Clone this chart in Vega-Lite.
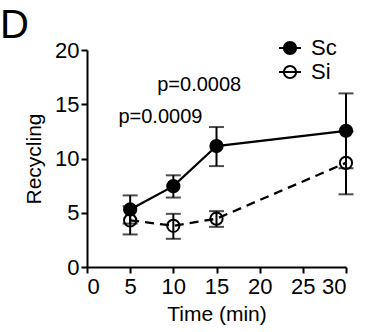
{
  "$schema": "https://vega.github.io/schema/vega-lite/v6.json",
  "width": 259,
  "height": 217,
  "autosize": "none",
  "padding": {"left": 87, "top": 50, "right": 27, "bottom": 65},
  "background": "white",
  "config": {
    "font": "Liberation Sans",
    "view": {"stroke": null},
    "axis": {
      "domainColor": "black", "domainWidth": 2, "tickColor": "black", "tickWidth": 2, "tickSize": 6,
      "labelColor": "black", "labelFontSize": 22, "titleColor": "black", "titleFontSize": 21,
      "titleFontWeight": "normal", "grid": false
    }
  },
  "title": {"text": "D", "anchor": "start", "frame": "group", "fontSize": 40, "fontWeight": "normal", "color": "black", "dx": -87, "offset": -9, "font": "Liberation Sans"},
  "datasets": {
    "series": [
      {"series": "Sc", "time": 5, "mean": 5.3, "lo": 4.0, "hi": 6.6},
      {"series": "Sc", "time": 10, "mean": 7.45, "lo": 6.4, "hi": 8.45},
      {"series": "Sc", "time": 15, "mean": 11.15, "lo": 9.3, "hi": 12.9},
      {"series": "Sc", "time": 30, "mean": 12.55, "lo": 9.1, "hi": 16.0},
      {"series": "Si", "time": 5, "mean": 4.3, "lo": 3.0, "hi": 5.6},
      {"series": "Si", "time": 10, "mean": 3.8, "lo": 2.6, "hi": 4.9},
      {"series": "Si", "time": 15, "mean": 4.45, "lo": 3.7, "hi": 5.15},
      {"series": "Si", "time": 30, "mean": 9.6, "lo": 6.7, "hi": 12.5}
    ],
    "pvals": [
      {"label": "p=0.0009", "time": 8.5, "value": 13.3},
      {"label": "p=0.0008", "time": 13.0, "value": 16.25}
    ]
  },
  "layer": [
    {
      "data": {"name": "series"},
      "transform": [{"filter": "datum.series === 'Sc'"}],
      "mark": {"type": "line", "color": "black", "strokeWidth": 2.3},
      "encoding": {
        "x": {"field": "time", "type": "quantitative", "scale": {"domain": [0, 30], "nice": false}, "axis": {"values": [0, 5, 10, 15, 20, 25, 30], "title": "Time (min)", "labelPadding": 3, "titlePadding": 6}},
        "y": {"field": "mean", "type": "quantitative", "scale": {"domain": [0, 20], "nice": false}, "axis": {"values": [0, 5, 10, 15, 20], "title": "Recycling", "labelPadding": 2, "titlePadding": 10}}
      }
    },
    {
      "data": {"name": "series"},
      "transform": [{"filter": "datum.series === 'Si'"}],
      "mark": {"type": "line", "color": "black", "strokeWidth": 2.3, "strokeDash": [9, 6]},
      "encoding": {
        "x": {"field": "time", "type": "quantitative"},
        "y": {"field": "mean", "type": "quantitative"}
      }
    },
    {
      "data": {"name": "series"},
      "mark": {"type": "errorbar", "ticks": {"size": 15, "thickness": 2, "color": "black"}, "rule": {"strokeWidth": 2, "color": "black"}},
      "encoding": {
        "x": {"field": "time", "type": "quantitative"},
        "y": {"field": "lo", "type": "quantitative", "title": "Recycling"},
        "y2": {"field": "hi"},
        "detail": {"field": "series", "type": "nominal"}
      }
    },
    {
      "data": {"name": "series"},
      "mark": {"type": "point", "shape": "circle", "size": 150, "stroke": "black", "strokeWidth": 2, "opacity": 1},
      "encoding": {
        "x": {"field": "time", "type": "quantitative"},
        "y": {"field": "mean", "type": "quantitative"},
        "fill": {"field": "series", "type": "nominal", "scale": {"domain": ["Sc", "Si"], "range": ["black", "transparent"]},
          "legend": {"title": null, "orient": "none", "legendX": 192, "legendY": -13, "symbolType": "M -1 0 A 1 1 0 1 0 1 0 A 1 1 0 1 0 -1 0 M -1.8 0 L 1.8 0", "symbolSize": 150, "symbolStrokeColor": "black", "symbolStrokeWidth": 2, "labelFontSize": 22, "labelColor": "black", "labelOffset": 10, "rowPadding": 2}}
      }
    },
    {
      "data": {"name": "pvals"},
      "mark": {"type": "text", "fontSize": 20, "color": "black", "align": "center", "baseline": "alphabetic"},
      "encoding": {
        "x": {"field": "time", "type": "quantitative"},
        "y": {"field": "value", "type": "quantitative"},
        "text": {"field": "label"}
      }
    }
  ]
}
